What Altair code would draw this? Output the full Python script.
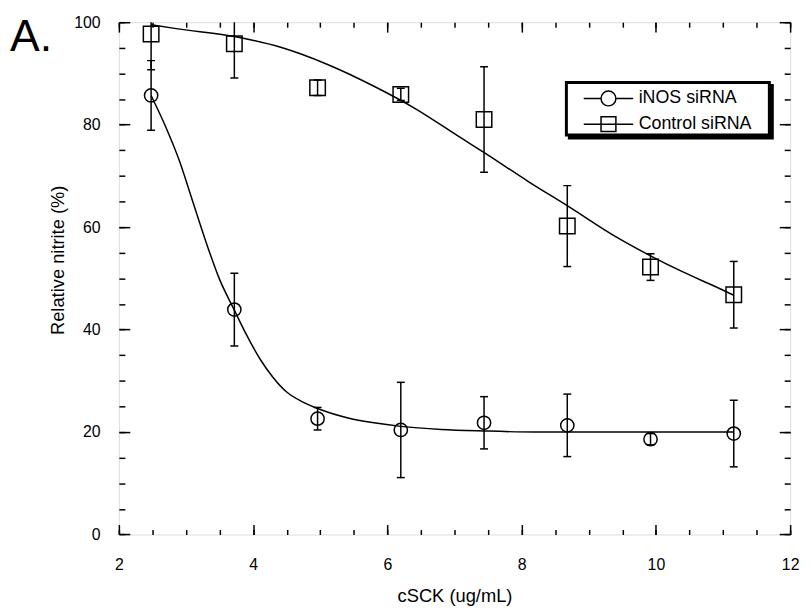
import altair as alt
import pandas as pd

# ---- data ----
conc = [2.48, 3.72, 4.96, 6.20, 7.44, 8.68, 9.92, 11.16]
inos_mean = [85.7, 43.9, 22.6, 20.4, 21.8, 21.3, 18.6, 19.7]
inos_sd = [6.8, 7.1, 2.2, 9.3, 5.1, 6.1, 1.1, 6.5]
ctrl_mean = [97.7, 95.8, 87.2, 85.9, 81.0, 60.2, 52.2, 46.8]
ctrl_sd = [7.0, 6.7, 1.5, 1.2, 10.3, 7.9, 2.6, 6.5]

inos_fit_x = [2.48, 2.7, 2.9, 3.1, 3.3, 3.5, 3.72, 3.9, 4.1, 4.3, 4.5, 4.75, 5.0, 5.4, 5.8, 6.2, 6.8, 7.44, 8.2, 9.5, 11.16]
inos_fit_y = [85.7, 79.5, 73.0, 65.0, 57.0, 49.8, 43.8, 39.0, 34.3, 30.6, 27.8, 25.8, 24.4, 22.8, 21.8, 21.1, 20.5, 20.2, 20.0, 20.0, 20.0]
ctrl_fit_x = [2.48, 2.88, 3.72, 4.41, 5.10, 5.83, 6.42, 7.11, 7.46, 8.10, 8.69, 9.42, 9.92, 10.41, 10.90, 11.16]
ctrl_fit_y = [99.5, 98.7, 97.2, 95.1, 91.8, 87.3, 83.1, 77.3, 74.4, 68.9, 64.1, 58.0, 54.4, 51.2, 48.3, 46.7]

series_names = ["iNOS siRNA", "Control siRNA"]
panel_label = ["A."]

x_major = [2, 4, 6, 8, 10, 12]
x_minor = [2, 2.5, 3, 3.5, 4, 4.5, 5, 5.5, 6, 6.5, 7, 7.5, 8, 8.5, 9, 9.5, 10, 10.5, 11, 11.5, 12]
y_major = [0, 20, 40, 60, 80, 100]
y_minor = [0, 5, 10, 15, 20, 25, 30, 35, 40, 45, 50, 55, 60, 65, 70, 75, 80, 85, 90, 95, 100]

# ---- tables ----
n = len(conc)
pts = pd.DataFrame({
    "conc": conc + conc,
    "mean": inos_mean + ctrl_mean,
    "sd": inos_sd + ctrl_sd,
    "series": [series_names[0]] * n + [series_names[1]] * n,
})
pts["lo"] = pts["mean"] - pts["sd"]
pts["hi"] = pts["mean"] + pts["sd"]
caps = pd.concat([pts.assign(cap=pts["lo"]), pts.assign(cap=pts["hi"])], ignore_index=True)
fit = pd.DataFrame({
    "conc": inos_fit_x + ctrl_fit_x,
    "val": inos_fit_y + ctrl_fit_y,
    "series": [series_names[0]] * len(inos_fit_x) + [series_names[1]] * len(ctrl_fit_x),
})
leg = pd.DataFrame({"conc": [conc[0], conc[0]], "mean": [inos_mean[0], ctrl_mean[0]],
                    "series": series_names, "shadow": series_names,
                    "border": series_names, "inner": series_names})

W, H = 678, 517.4
FONT = "Liberation Sans"
XS = alt.Scale(domain=[2, 12], nice=False, zero=False)
YS = alt.Scale(domain=[0, 100], nice=False, zero=False)


def tick_axis(orient, offset, values, size):
    return alt.Axis(orient=orient, offset=offset, values=values, ticks=True, tickSize=size,
                    tickColor="black", tickWidth=1.5, labels=False, domain=False,
                    grid=False, title=None)


x_lab = alt.Axis(orient="bottom", values=x_major, ticks=False, tickSize=0, domain=False, grid=False,
                 labelPadding=22, labelFontSize=16, labelFont=FONT, labelColor="black",
                 labelFlush=False, labelOverlap=False,
                 title="cSCK (ug/mL)", titleFont=FONT, titleFontSize=18.5, titleFontWeight="normal",
                 titleColor="black", titleBaseline="alphabetic", titleY=68)
y_lab = alt.Axis(orient="left", values=y_major, ticks=False, tickSize=0, domain=False, grid=False,
                 labelPadding=19, labelFontSize=16, labelFont=FONT, labelColor="black",
                 labelOverlap=False,
                 title="Relative nitrite (%)", titleFont=FONT, titleFontSize=18.5,
                 titleFontWeight="normal", titleColor="black", titleBaseline="middle",
                 titleX=-62, titleY=240)

# fitted curves
lines = alt.Chart(fit).mark_line(color="black", strokeWidth=1.5, interpolate="monotone", clip=True).encode(
    x=alt.X("conc:Q", scale=XS, axis=x_lab),
    y=alt.Y("val:Q", scale=YS, axis=y_lab),
    detail="series:N",
)

# error bars
rules = alt.Chart(pts).mark_rule(color="black", strokeWidth=1.5, clip=True).encode(
    x=alt.X("conc:Q", scale=XS, axis=tick_axis("top", -H, x_major, 10)),
    y=alt.Y("lo:Q", scale=YS, axis=tick_axis("right", -W, y_major, 11)),
    y2="hi:Q",
)

capmarks = alt.Chart(caps).mark_tick(color="black", orient="horizontal", size=8, thickness=1.5,
                                     opacity=1, clip=True).encode(
    x=alt.X("conc:Q", scale=XS, axis=tick_axis("top", -H, x_minor, 5)),
    y=alt.Y("cap:Q", scale=YS, axis=tick_axis("right", -W, y_minor, 6)),
)

circles = alt.Chart(pts).transform_filter(
    alt.datum.series == series_names[0]
).mark_point(shape="circle", size=180, filled=False, color="black", strokeWidth=1.5, opacity=1).encode(
    x=alt.X("conc:Q", scale=XS, axis=tick_axis("bottom", -H, x_major, 10)),
    y=alt.Y("mean:Q", scale=YS, axis=tick_axis("left", -W, y_major, 11)),
)

squares = alt.Chart(pts).transform_filter(
    alt.datum.series == series_names[1]
).mark_point(shape="square", size=245, filled=False, color="black", strokeWidth=1.5, opacity=1).encode(
    x=alt.X("conc:Q", scale=XS, axis=tick_axis("bottom", -H, x_minor, 5)),
    y=alt.Y("mean:Q", scale=YS, axis=tick_axis("left", -W, y_minor, 6)),
)

# panel letter
letter = alt.Chart(pd.DataFrame({"t": panel_label})).mark_text(
    font=FONT, fontSize=45, color="black", align="left", baseline="alphabetic"
).encode(text="t:N", x=alt.value(-110), y=alt.value(29.5))

# legend symbols: line with marker
circle_path = "M-3.33,0H-1M1,0H3.33M-1,0A1,1,0,1,1,1,0A1,1,0,1,1,-1,0"
square_path = "M-3.33,0H3.33M-1,-1H1V1H-1Z"

BX, BY = 450, 59  # outer (border) box, plot coordinates
NB = "\u00a0"
common_leg = dict(orient="none", title=None, direction="vertical", strokeColor="transparent",
                  symbolSize=225, symbolStrokeWidth=1.5, symbolOffset=27.5,
                  labelFontSize=18, labelFont=FONT, rowPadding=4, labelLimit=400)

# visible entries (transparent box)
leg_main = alt.Chart(leg).mark_point(opacity=0, color="black").encode(
    x=alt.X("conc:Q", scale=XS, axis=None),
    y=alt.Y("mean:Q", scale=YS, axis=None),
    shape=alt.Shape("series:N", scale=alt.Scale(domain=series_names, range=[circle_path, square_path]),
                    legend=alt.Legend(legendX=BX + 3, legendY=BY + 4, padding=5, fillColor="transparent",
                                      symbolStrokeColor="black", symbolFillColor="transparent",
                                      symbolOpacity=1, labelColor="black", zindex=4,
                                      labelOffset=21.5, **common_leg)),
)

# boxes: blank entries, width set by the label offset
box_leg = dict(symbolType=circle_path, symbolOpacity=0, labelColor="black",
               labelOffset=145.7, labelExpr=f"'{NB}'", **common_leg)


def box(field, channel, dx, dy, pad, fill, z):
    enc = channel(f"{field}:N", scale=alt.Scale(range=[fill, fill]),
                  legend=alt.Legend(legendX=BX + dx, legendY=BY + dy, padding=pad, fillColor=fill,
                                    zindex=z, **box_leg))
    return alt.Chart(leg).mark_point(opacity=0).encode(
        x=alt.X("conc:Q", scale=XS, axis=None),
        y=alt.Y("mean:Q", scale=YS, axis=None),
        **{channel.__name__.lower(): enc},
    )


leg_shadow = box("shadow", alt.Fill, 3, 3, 8, "black", 1)
leg_border = box("border", alt.Stroke, 0, 0, 8, "black", 2)
leg_inner = box("inner", alt.Color, 3, 3, 5, "white", 3)

chart = alt.layer(lines, rules, capmarks, circles, squares, letter,
                  leg_shadow, leg_border, leg_inner, leg_main).resolve_axis(
    x="independent", y="independent"
).properties(
    width=W, height=H,
    autosize=alt.AutoSizeParams(type="none"),
    padding={"left": 112, "top": 11.3, "right": 14, "bottom": 80},
).configure_view(
    stroke="black", strokeWidth=2
).configure(font=FONT)

chart.save("out.html", embed_options={"renderer": "svg", "actions": False})
